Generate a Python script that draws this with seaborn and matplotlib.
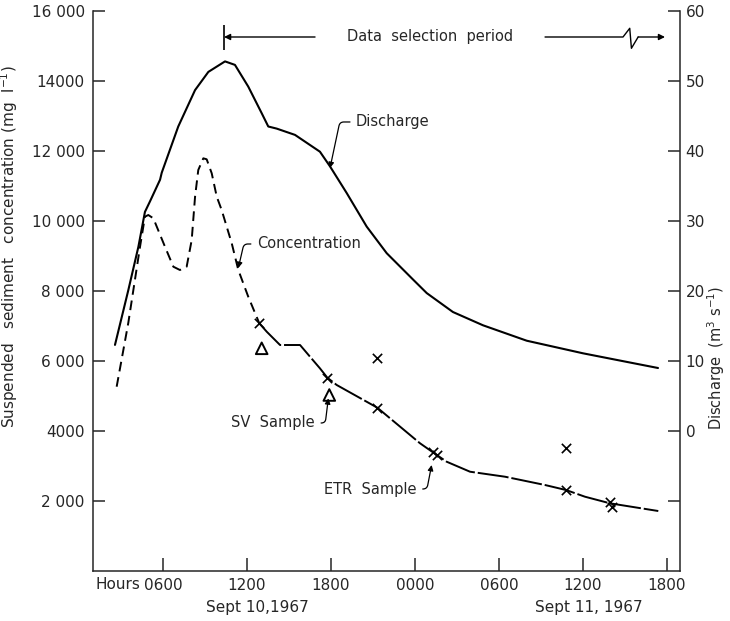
import pandas as pd
import numpy as np
import matplotlib
matplotlib.use("Agg")
import matplotlib.pyplot as plt
import seaborn as sns

# time in hours after 0000, Sept 10 1967
discharge_hours = [2.57, 3.52, 4.24, 4.71, 5.07, 5.79, 5.91, 7.09, 8.29, 9.24,
                   10.43, 11.14, 12.09, 13.05, 13.52, 14.12, 15.43, 17.21, 17.93, 19.12,
                   20.55, 21.98, 23.88, 24.84, 26.71, 28.86, 31.98, 36.0, 39.57, 41.36]
discharge = [12.3, 20.1, 26.3, 31.3, 32.8, 35.9, 36.9, 43.5, 48.7, 51.3,
             52.8, 52.3, 49.2, 45.4, 43.5, 43.2, 42.3, 39.9, 37.8, 34.0,
             29.2, 25.4, 21.6, 19.7, 17.0, 15.1, 12.9, 11.1, 9.7, 9.0]

# concentration, rising limb (long dashes)
conc_rise_hours = [2.69, 3.52, 4.36, 4.71, 4.95, 5.31, 6.14, 6.74, 7.21, 7.69,
                   8.05, 8.29, 8.52, 8.88, 9.12, 9.48, 9.84, 10.19, 10.91, 11.38,
                   12.09, 12.88]
conc_rise = [5266, 7086, 9266, 10123, 10171, 10077, 9266, 8694, 8600, 8694,
             9457, 10694, 11457, 11791, 11763, 11363, 10694, 10314, 9363, 8600,
             7837, 7077]
# concentration, recession (near solid)
conc_fall_hours = [12.88, 13.41, 14.36, 15.79, 16.5, 17.21, 17.74, 18.41, 21.31, 24.36,
                   25.43, 26.26, 27.93, 30.43, 33.29, 34.79, 36.14, 37.93, 41.38]
conc_fall = [7077, 6837, 6457, 6457, 6123, 5791, 5523, 5314, 4666, 3649,
             3350, 3123, 2837, 2694, 2457, 2314, 2123, 1934, 1714]

etr_hours = [12.88, 17.74, 21.29, 21.31, 25.31, 25.55, 34.79, 34.79, 37.93, 38.05]
etr_conc = [7077, 5523, 6094, 4666, 3391, 3314, 3523, 2314, 1980, 1837]
sv_hours = [13.05, 17.88]
sv_conc = [6363, 5029]

left_ticks = [2000, 4000, 6000, 8000, 10000, 12000, 14000, 16000]
left_labels = ["2 000", "4000", "6 000", "8 000", "10 000", "12 000", "14000", "16 000"]
right_ticks = [-10, 0, 10, 20, 30, 40, 50, 60]
right_labels = ["", "0", "10", "20", "30", "40", "50", "60"]
x_ticks = [6, 12, 18, 24, 30, 36, 42]
x_labels = ["0600", "1200", "1800", "0000", "0600", "1200", "1800"]


def main():
    sns.set_style("ticks")
    plt.rcParams['font.family'] = ['DejaVu Sans']

    fig = plt.figure(figsize=(7.3, 6.21), dpi=100)
    ax = fig.add_axes([0.1274, 0.0805, 0.8041, 0.9018])
    ax2 = ax.twinx()

    conc = pd.concat([
        pd.DataFrame({"hours": conc_rise_hours, "conc": conc_rise, "part": "rise"}),
        pd.DataFrame({"hours": conc_fall_hours, "conc": conc_fall, "part": "fall"}),
    ])
    sns.lineplot(data=conc, x="hours", y="conc", style="part",
                 dashes={"rise": (5, 3), "fall": (16, 1.5)},
                 color="black", lw=1.4, estimator=None, sort=False,
                 legend=False, ax=ax)

    sns.scatterplot(x=etr_hours, y=etr_conc, marker="x", color="black",
                    s=45, linewidth=1.2, ax=ax, zorder=4)
    sns.scatterplot(x=sv_hours, y=sv_conc, marker="^", facecolor="none",
                    edgecolor="black", s=70, linewidth=1.4, ax=ax, zorder=4)

    q = pd.DataFrame({"hours": discharge_hours, "q": discharge})
    sns.lineplot(data=q, x="hours", y="q", color="black", lw=1.5,
                 estimator=None, sort=False, ax=ax2)

    ax.set_xlim(1.0, 42.93)
    ax.set_ylim(0, 16000)
    ax2.set_ylim(-20, 60)

    ax.set_xticks(x_ticks)
    ax.set_xticklabels(x_labels)
    ax.set_yticks(left_ticks)
    ax.set_yticklabels(left_labels)
    ax2.set_yticks(right_ticks)
    ax2.set_yticklabels(right_labels)

    for a in (ax, ax2):
        a.spines['top'].set_visible(False)
        for s in a.spines.values():
            s.set_linewidth(1.1)
    ax.spines['right'].set_visible(False)
    ax2.spines['left'].set_visible(False)
    ax2.spines['bottom'].set_visible(False)

    ax.tick_params(axis='x', direction='in', length=9.5, width=1.1, pad=5, labelsize=11)
    ax.tick_params(axis='y', direction='in', length=8.5, width=1.1, pad=6, labelsize=11)
    ax2.tick_params(axis='y', direction='in', length=8.5, width=1.1, pad=4, labelsize=11)

    ax.set_xlabel("")
    ax.set_ylabel("Suspended   sediment   concentration (mg  l$^{-1}$)", fontsize=11)
    ax.yaxis.set_label_coords(-0.124, 0.579)
    ax2.set_ylabel("Discharge  (m$^3$ s$^{-1}$)", fontsize=10.5)
    ax2.yaxis.set_label_coords(1.043, 0.38)

    xt = ax.get_xaxis_transform()
    ax.text(4.4, -0.0115, "Hours", transform=xt, ha="right", va="top", fontsize=11)
    ax.text(12.71, -0.066, "Sept 10,1967", transform=xt, ha="center", va="center", fontsize=11)
    ax.text(36.43, -0.066, "Sept 11, 1967", transform=xt, ha="center", va="center", fontsize=11)

    # data selection period bar
    arrow_kw = dict(arrowstyle="-|>", color="black", lw=1.0, shrinkA=0, shrinkB=0,
                    mutation_scale=9)
    ax.vlines(10.36, 14886, 15600, color="black", lw=1.2)
    ax.annotate("", xy=(10.36, 15257), xytext=(16.86, 15257), arrowprops=arrow_kw)
    ax.text(25.07, 15257, "Data  selection  period", ha="center", va="center", fontsize=10.5)
    ax.plot([33.29, 38.86, 39.34, 39.46, 39.94], [15257, 15257, 15506, 14934, 15257],
            color="black", lw=1.0)
    ax.annotate("", xy=(41.86, 15257), xytext=(39.94, 15257), arrowprops=arrow_kw)

    # callouts
    def callout(text, tip, pos, ha, angle_a, angle_b):
        ax.annotate(text, xy=tip, xytext=pos, ha=ha, va="center", fontsize=10.5,
                    arrowprops=dict(arrowstyle="-|>", color="black", lw=0.9,
                                    mutation_scale=8, shrinkA=2, shrinkB=0,
                                    connectionstyle="angle,angleA=%d,angleB=%d,rad=4"
                                    % (angle_a, angle_b)))

    callout("Discharge", (17.93, 11514), (19.79, 12829), "left", 180, 78)
    callout("Concentration", (11.38, 8657), (12.71, 9343), "left", 180, 77)
    callout("SV  Sample", (17.81, 4934), (16.86, 4229), "right", 0, -97)
    callout("ETR  Sample", (25.19, 3029), (24.12, 2343), "right", 0, -101)

    fig.savefig("out.png", dpi=100)


if __name__ == '__main__':
    main()
